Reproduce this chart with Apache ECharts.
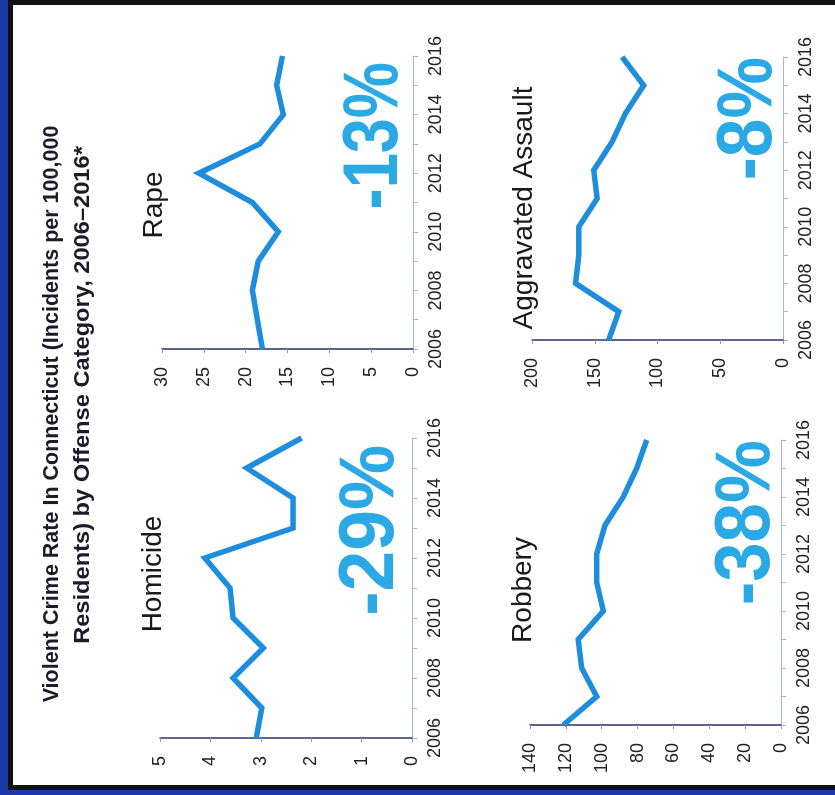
<!DOCTYPE html>
<html lang="en">
<head>
  <meta charset="UTF-8">
  <title>Violent Crime Rate In Connecticut</title>
  <script src="https://cdn.jsdelivr.net/npm/echarts@6/dist/echarts.min.js"></script>
  <style>
    html, body { margin: 0; padding: 0; background: #fff; }
    #frame { position: absolute; left: 0; top: 0; width: 835px; height: 795px; background: #fff; overflow: hidden; }
    .edge { position: absolute; }
  </style>
</head>
<body>
<div id="frame">
  <!--  photo frame round the printed chart  -->
  <div class="edge" style="left:0;top:0;width:8px;height:795px;background:#1b3ca8"></div>
  <div class="edge" style="left:8px;top:0;width:5px;height:790px;background:#111"></div>
  <div class="edge" style="left:8px;top:0;width:827px;height:5px;background:#111"></div>
  <div class="edge" style="left:8px;top:785px;width:827px;height:5px;background:#111"></div>
  <div class="edge" style="left:0;top:790px;width:835px;height:5px;background:#1b3ca8"></div>
  <div id="chart" style="position:absolute;left:0;top:0;width:835px;height:795px"></div>
</div>

<script>
  // data (incidents per 100,000 residents)
  const years = [2006, 2007, 2008, 2009, 2010, 2011, 2012, 2013, 2014, 2015, 2016];
  const homicide = [3.09, 2.98, 3.55, 2.95, 3.55, 3.61, 4.11, 2.36, 2.36, 3.28, 2.19];
  const rape = [18.0, 18.6, 19.2, 18.5, 16.1, 19.2, 25.6, 18.3, 15.5, 16.3, 15.6];
  const robbery = [121.4, 102.8, 111.2, 113.1, 99.1, 102.8, 102.8, 98.2, 88.0, 80.5, 74.9];
  const assault = [138.9, 130.9, 165.3, 162.7, 162.7, 148.1, 150.8, 136.2, 125.6, 111.0, 128.2];

  const categories = ['Homicide', 'Rape', 'Robbery', 'Aggravated Assault'];
  const changes = ['-29%', '-13%', '-38%', '-8%'];
  const valueMax = [5, 30, 140, 200];
  const valueStep = [1, 5, 20, 50];
  const seriesValues = [homicide, rape, robbery, assault];

  // the printed page is photographed turned a quarter turn, so every panel is rotated
  const panels = [
    { grid: { left: 160, top: 438, width: 252, height: 300 }, title: [153, 574], pct: [372, 445], pctScale: 0.95 },
    { grid: { left: 162, top: 56, width: 251, height: 293 }, title: [154, 205], pct: [376, 62], pctScale: 0.82 },
    { grid: { left: 530, top: 440, width: 251, height: 285 }, title: [523, 590], pct: [748, 440], pctScale: 0.92 },
    { grid: { left: 532, top: 57, width: 251, height: 283 }, title: [524, 208], pct: [750, 57], pctScale: 0.9 }
  ];

  const font = 'Liberation Sans';
  const up = Math.PI / 2;

  let chart = echarts.init(document.getElementById('chart'));

  let grids = [], xAxes = [], yAxes = [], series = [];
  let graphics = [
    {
      type: 'text', x: 52, y: 414, rotation: up,
      style: {
        text: 'Violent Crime Rate In Connecticut (Incidents per 100,000',
        fontSize: 21.5, fontWeight: 'bold', fontFamily: font, fill: '#1c1c28',
        align: 'center', verticalAlign: 'middle'
      }
    },
    {
      type: 'text', x: 83, y: 395, rotation: up, scaleX: 1.1,
      style: {
        text: 'Residents) by Offense Category, 2006\u20132016*',
        fontSize: 21.5, fontWeight: 'bold', fontFamily: font, fill: '#1c1c28',
        align: 'center', verticalAlign: 'middle'
      }
    }
  ];

  panels.forEach(function (p, i) {
    grids.push(p.grid);
    xAxes.push({
      gridIndex: i,
      type: 'value',
      inverse: true,
      position: 'bottom',
      min: 0,
      max: valueMax[i],
      interval: valueStep[i],
      splitLine: { show: false },
      axisLine: { show: true, lineStyle: { color: '#2b3468', width: 1.5 } },
      axisTick: { show: true, length: 4, lineStyle: { color: '#8a9abf' } },
      axisLabel: { rotate: 90, margin: 18, fontSize: 18, fontFamily: font, color: '#222' }
    });
    yAxes.push({
      gridIndex: i,
      type: 'value',
      position: 'right',
      min: 2006,
      max: 2016,
      interval: 1,
      splitLine: { show: false },
      axisLine: { show: true, onZero: false, lineStyle: { color: '#a8b6d2', width: 1 } },
      axisTick: { show: true, length: 5, lineStyle: { color: '#a8b6d2' } },
      axisLabel: {
        rotate: 90, margin: 14, fontSize: 18, fontFamily: font, color: '#222',
        formatter: function (v) { return v % 2 === 0 ? String(v) : ''; }
      }
    });
    series.push({
      type: 'line',
      name: categories[i],
      xAxisIndex: i,
      yAxisIndex: i,
      symbol: 'none',
      silent: true,
      lineStyle: { width: 5.5, color: '#1d8ddc', join: 'miter' },
      data: years.map(function (y, j) { return [seriesValues[i][j], y]; })
    });
    graphics.push({
      type: 'text', x: p.title[0], y: p.title[1], rotation: up,
      style: {
        text: categories[i], fontSize: 28, fontFamily: font, fill: '#1a1a1a',
        align: 'center', verticalAlign: 'middle'
      }
    });
    graphics.push({
      type: 'text', x: p.pct[0], y: p.pct[1], rotation: up, scaleX: p.pctScale,
      style: {
        text: changes[i], fontSize: 77, fontWeight: 'bold', fontFamily: font, fill: '#2aa9e5',
        align: 'right', verticalAlign: 'middle'
      }
    });
  });

  chart.setOption({
    animation: false,
    backgroundColor: 'transparent',
    grid: grids,
    xAxis: xAxes,
    yAxis: yAxes,
    series: series,
    graphic: graphics
  });
</script>
</body>
</html>
